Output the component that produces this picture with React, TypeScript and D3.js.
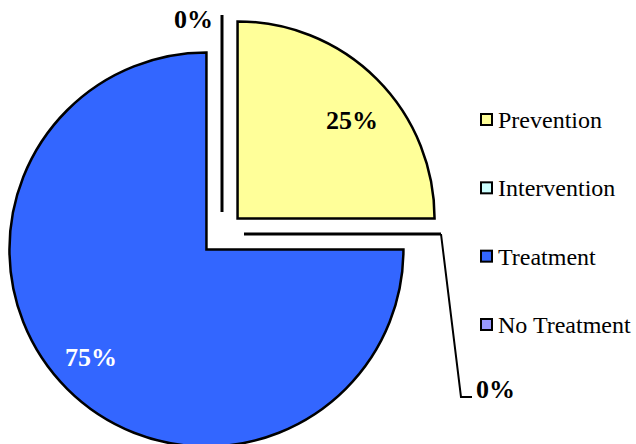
import React from "react";
import * as d3 from "d3";

const categories = ["Prevention", "Intervention", "Treatment", "No Treatment"];
const values = [25, 0, 75, 0];
const labels = ["25%", "0%", "75%", "0%"];
const colors = ["#FFFF99", "#CCFFFF", "#3366FF", "#9999FF"];

const W = 636, H = 444;
const cx = 222, cy = 234, R = 197, EXPLODE = 22;
const FONT = "Liberation Serif";

export default function App() {
  const pie = d3.pie<number>().sort(null).value((d) => d).startAngle(0).endAngle(2 * Math.PI);
  const arcs = pie(values);
  const arcGen = d3.arc<d3.PieArcDatum<number>>().innerRadius(0).outerRadius(R);

  const offset = (a: d3.PieArcDatum<number>) => {
    const mid = (a.startAngle + a.endAngle) / 2;
    return [EXPLODE * Math.sin(mid), -EXPLODE * Math.cos(mid)];
  };

  const labelPos: Record<number, { x: number; y: number; fill: string; anchor: string }> = {
    0: { x: 352, y: 129, fill: "#000", anchor: "middle" },
    1: { x: 476, y: 398, fill: "#000", anchor: "start" },
    2: { x: 91, y: 366, fill: "#fff", anchor: "middle" },
    3: { x: 213, y: 28, fill: "#000", anchor: "end" },
  };

  const legendY = d3.scalePoint<string>().domain(categories).range([120, 325]);

  return (
    <svg width={W} height={H} style={{ position: "absolute", left: 0, top: 0, background: "#fff" }}>
      {arcs.map((a, i) => {
        const [dx, dy] = offset(a);
        const ox = cx + dx, oy = cy + dy;
        if (a.endAngle - a.startAngle < 1e-6) {
          const ang = a.startAngle;
          return (
            <line
              key={i}
              x1={ox}
              y1={oy}
              x2={ox + R * Math.sin(ang)}
              y2={oy - R * Math.cos(ang)}
              stroke="#000"
              strokeWidth={3}
            />
          );
        }
        return (
          <path
            key={i}
            d={arcGen(a) || ""}
            transform={`translate(${ox},${oy})`}
            fill={colors[i]}
            stroke="#000"
            strokeWidth={2.5}
            strokeLinejoin="miter"
          />
        );
      })}
      {(() => {
        const a = arcs[1];
        const [dx, dy] = offset(a);
        const x0 = cx + dx + R * Math.sin(a.startAngle);
        const y0 = cy + dy - R * Math.cos(a.startAngle);
        const p = labelPos[1];
        return (
          <polyline
            points={`${x0},${y0} ${p.x - 15},${p.y - 1} ${p.x - 4},${p.y - 1}`}
            fill="none"
            stroke="#000"
            strokeWidth={2}
          />
        );
      })()}
      {arcs.map((a, i) => {
        const p = labelPos[i];
        return (
          <text
            key={"l" + i}
            x={p.x}
            y={p.y}
            textAnchor={p.anchor as any}
            fill={p.fill}
            style={{ fontFamily: FONT, fontWeight: "bold", fontSize: 26 }}
          >
            {labels[i]}
          </text>
        );
      })}
      {categories.map((c, i) => {
        const y = legendY(c)!;
        return (
          <g key={"g" + i}>
            <rect x={481} y={y - 6} width={11} height={11} fill={colors[i]} stroke="#000" strokeWidth={2} />
            <text x={498} y={y + 8} fill="#000" style={{ fontFamily: FONT, fontSize: 24 }}>
              {c}
            </text>
          </g>
        );
      })}
    </svg>
  );
}
